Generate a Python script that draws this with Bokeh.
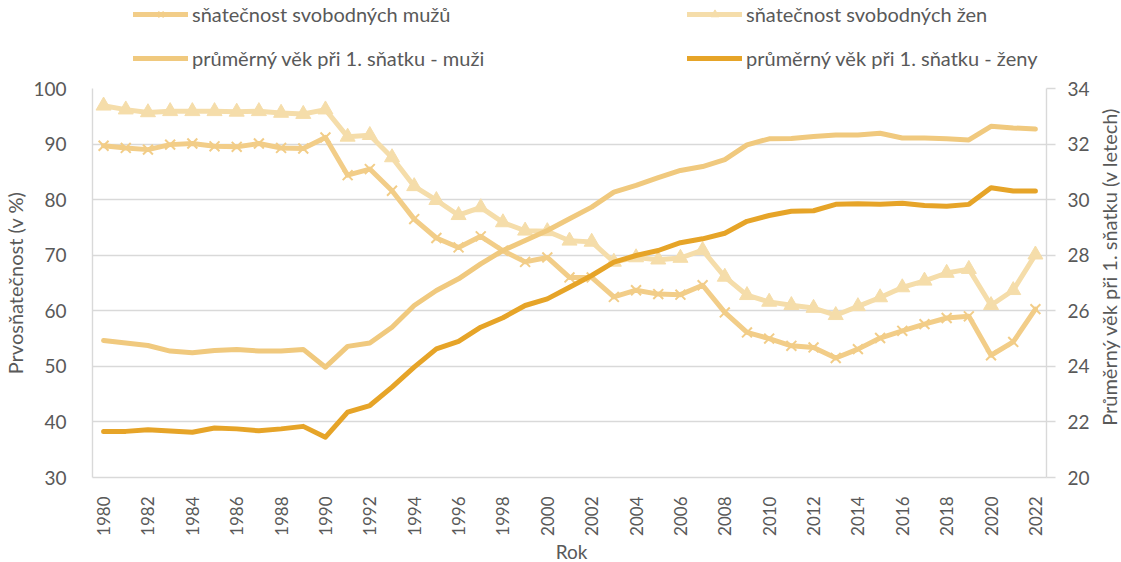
import math
from bokeh.plotting import figure
from bokeh.layouts import column, row
from bokeh.models import (Legend, LegendItem, LinearAxis, Range1d, FixedTicker, Label)
from bokeh.embed import file_html
from bokeh.resources import INLINE

years = [1980, 1981, 1982, 1983, 1984, 1985, 1986, 1987, 1988, 1989,
         1990, 1991, 1992, 1993, 1994, 1995, 1996, 1997, 1998, 1999,
         2000, 2001, 2002, 2003, 2004, 2005, 2006, 2007, 2008, 2009,
         2010, 2011, 2012, 2013, 2014, 2015, 2016, 2017, 2018, 2019,
         2020, 2021, 2022]

men_rate = [89.7, 89.3, 89.0, 89.9, 90.1, 89.6, 89.5, 90.1, 89.3, 89.2,
            91.2, 84.4, 85.5, 81.6, 76.5, 73.1, 71.4, 73.4, 70.8, 68.8,
            69.6, 66.0, 66.0, 62.5, 63.7, 63.0, 62.9, 64.6, 59.7, 56.1,
            55.0, 53.7, 53.4, 51.5, 53.1, 55.1, 56.4, 57.6, 58.7, 59.0,
            52.0, 54.4, 60.3]

women_rate = [96.9, 96.2, 95.7, 95.9, 95.9, 95.9, 95.8, 95.9, 95.6, 95.4,
              96.2, 91.3, 91.6, 87.6, 82.4, 79.9, 77.2, 78.6, 75.9, 74.4,
              74.3, 72.6, 72.4, 68.8, 69.6, 69.2, 69.5, 70.9, 66.1, 62.8,
              61.6, 61.0, 60.5, 59.2, 60.8, 62.4, 64.2, 65.4, 66.8, 67.5,
              61.0, 63.7, 70.1]

men_age = [24.93, 24.84, 24.75, 24.55, 24.49, 24.57, 24.61, 24.55, 24.55, 24.61,
           23.97, 24.72, 24.84, 25.41, 26.19, 26.73, 27.15, 27.69, 28.17, 28.53,
           28.89, 29.31, 29.73, 30.27, 30.51, 30.79, 31.05, 31.19, 31.44, 31.97,
           32.19, 32.20, 32.27, 32.33, 32.33, 32.39, 32.22, 32.22, 32.19, 32.15,
           32.64, 32.58, 32.54]

women_age = [21.66, 21.66, 21.72, 21.67, 21.63, 21.78, 21.75, 21.68, 21.75, 21.84,
             21.45, 22.35, 22.59, 23.25, 23.97, 24.63, 24.90, 25.41, 25.75, 26.19,
             26.43, 26.85, 27.27, 27.75, 27.99, 28.17, 28.45, 28.59, 28.79, 29.22,
             29.43, 29.58, 29.60, 29.83, 29.85, 29.83, 29.87, 29.79, 29.76, 29.83,
             30.43, 30.31, 30.31]

x_ticks = [1980, 1982, 1984, 1986, 1988, 1990, 1992, 1994, 1996, 1998, 2000,
           2002, 2004, 2006, 2008, 2010, 2012, 2014, 2016, 2018, 2020, 2022]
left_ticks = [30, 40, 50, 60, 70, 80, 90, 100]
right_ticks = [20, 22, 24, 26, 28, 30, 32, 34]

labels = ["sňatečnost svobodných mužů", "sňatečnost svobodných žen",
          "průměrný věk při 1. sňatku - muži", "průměrný věk při 1. sňatku - ženy"]
x_title = "Rok"
y_title = "Prvosňatečnost (v %)"
y2_title = "Průměrný věk při 1. sňatku (v letech)"

C_MEN_RATE = "#F2CD88"
C_WOMEN_RATE = "#F5DDAA"
C_MEN_AGE = "#F0C97E"
C_WOMEN_AGE = "#E6A428"
TXT = "#595959"
GRID = "#D9D9D9"
FONT = "Lato"
FS = "19px"
FS_T = "20px"

W_COL = 1092
W_TITLE = 29
H_LEG = 76
H_MAIN = 12 + 389 + 62
H_ROK = 23
H_ALL = H_LEG + H_MAIN + H_ROK

# ---------------- main chart ----------------
p = figure(width=W_COL, height=H_MAIN, output_backend="svg", toolbar_location=None,
           x_range=Range1d(1979.5, 2022.5), y_range=Range1d(30, 100),
           min_border_left=92, min_border_right=46, min_border_top=12,
           min_border_bottom=62)
p.outline_line_color = None
p.extra_y_ranges = {"age": Range1d(20, 34)}

p.xgrid.visible = False
p.ygrid.ticker = FixedTicker(ticks=left_ticks)
p.ygrid.grid_line_color = GRID
p.ygrid.grid_line_width = 1.4

ya = p.yaxis[0]
ya.ticker = FixedTicker(ticks=left_ticks)
ya.axis_line_color = GRID
ya.axis_line_width = 1.4
ya.major_tick_line_color = None
ya.minor_tick_line_color = None
ya.major_label_standoff = 20
ya.major_label_text_font = FONT
ya.major_label_text_font_size = FS
ya.major_label_text_color = TXT
ya.axis_label = y_title
ya.axis_label_standoff = 3
ya.axis_label_text_font = FONT
ya.axis_label_text_font_size = FS_T
ya.axis_label_text_font_style = "normal"
ya.axis_label_text_color = TXT

xa = p.xaxis[0]
xa.ticker = FixedTicker(ticks=x_ticks)
xa.major_label_orientation = math.pi / 2
xa.axis_line_color = GRID
xa.axis_line_width = 1.4
xa.major_tick_line_color = None
xa.minor_tick_line_color = None
xa.major_label_standoff = 13
xa.major_label_text_font = FONT
xa.major_label_text_font_size = "17px"
xa.major_label_text_color = TXT

ra = LinearAxis(y_range_name="age", ticker=FixedTicker(ticks=right_ticks))
ra.axis_line_color = GRID
ra.axis_line_width = 1.4
ra.major_tick_line_color = GRID
ra.major_tick_line_width = 1.4
ra.major_tick_out = 9
ra.major_tick_in = 0
ra.minor_tick_line_color = None
ra.major_label_standoff = 12
ra.major_label_text_font = FONT
ra.major_label_text_font_size = FS
ra.major_label_text_color = TXT
p.add_layout(ra, "right")

p.line(years, men_rate, line_color=C_MEN_RATE, line_width=5,
       line_join="round", line_cap="round")
p.scatter(years, men_rate, marker="x", size=14, line_color=C_MEN_RATE, line_width=2)
p.line(years, women_rate, line_color=C_WOMEN_RATE, line_width=5,
       line_join="round", line_cap="round")
p.scatter(years, women_rate, marker="triangle", size=15,
          fill_color=C_WOMEN_RATE, line_color=C_WOMEN_RATE)
p.line(years, men_age, y_range_name="age", line_color=C_MEN_AGE,
       line_width=5, line_join="round", line_cap="round")
p.line(years, women_age, y_range_name="age", line_color=C_WOMEN_AGE,
       line_width=5, line_join="round", line_cap="round")


def strip(width, height):
    f = figure(width=width, height=height, output_backend="svg",
               toolbar_location=None, min_border=0,
               x_range=Range1d(0, 1), y_range=Range1d(0, 1))
    f.axis.visible = False
    f.grid.visible = False
    f.outline_line_color = None
    return f


# ---------------- legend strip ----------------
lf = strip(W_COL, H_LEG)
dx, dy = [-10], [-10]   # legend-only renderers, kept out of view
l1 = lf.line(dx, dy, line_color=C_MEN_RATE, line_width=5, line_cap="round")
m1 = lf.scatter(dx, dy, marker="x", size=14, line_color=C_MEN_RATE, line_width=2)
l2 = lf.line(dx, dy, line_color=C_WOMEN_RATE, line_width=5, line_cap="round")
m2 = lf.scatter(dx, dy, marker="triangle", size=15, fill_color=C_WOMEN_RATE,
                line_color=C_WOMEN_RATE)
l3 = lf.line(dx, dy, line_color=C_MEN_AGE, line_width=5, line_cap="round")
l4 = lf.line(dx, dy, line_color=C_WOMEN_AGE, line_width=5, line_cap="round")


def make_legend(items, loc):
    lg = Legend(items=items, location=loc, orientation="vertical")
    lg.border_line_color = None
    lg.background_fill_alpha = 0
    lg.padding = 0
    lg.margin = 0
    lg.spacing = 20
    lg.glyph_width = 55
    lg.glyph_height = 20
    lg.label_height = 20
    lg.label_standoff = 4
    lg.label_text_font = FONT
    lg.label_text_font_size = FS_T
    lg.label_text_color = TXT
    lg.label_text_baseline = "middle"
    return lg


lf.add_layout(make_legend([LegendItem(label=labels[0], renderers=[l1, m1]),
                           LegendItem(label=labels[2], renderers=[l3])], (41, 6)))
lf.add_layout(make_legend([LegendItem(label=labels[1], renderers=[l2, m2]),
                           LegendItem(label=labels[3], renderers=[l4])], (595, 6)))

# ---------------- x-axis title strip ----------------
rf = strip(W_COL, H_ROK)
rf.add_layout(Label(x=479, y=H_ROK / 2, x_units="screen", y_units="screen",
                    text=x_title, text_font=FONT, text_font_size=FS, text_color=TXT,
                    text_align="center", text_baseline="middle"))

# ---------------- right axis title strip ----------------
tf = strip(W_TITLE, H_ALL)
tf.add_layout(Label(x=16, y=H_ALL - 266, x_units="screen", y_units="screen",
                    text=y2_title, angle=math.pi / 2, text_font=FONT,
                    text_font_size=FS_T, text_color=TXT,
                    text_align="center", text_baseline="middle"))

layout = row(column(lf, p, rf, spacing=0), tf, spacing=0)
open("out.html", "w").write(file_html(layout, INLINE))
